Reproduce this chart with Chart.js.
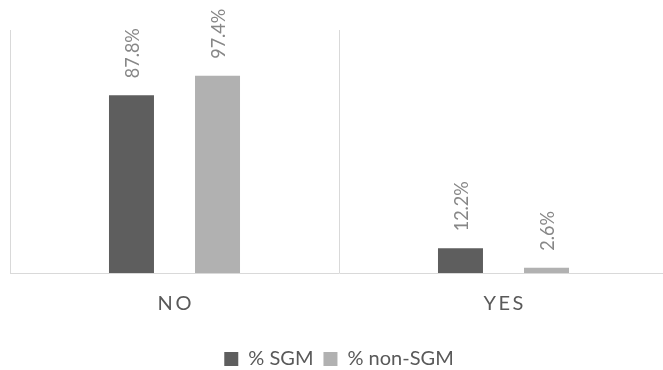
<!DOCTYPE html>
<html>
<head>
<meta charset="utf-8">
<script src="https://cdn.jsdelivr.net/npm/chart.js@4/dist/chart.umd.min.js"></script>
<style>
  html, body { margin: 0; padding: 0; background: #ffffff; overflow: hidden; }
  #wrap { width: 669px; height: 370px; }
</style>
</head>
<body>
<div id="wrap"><canvas id="chart" width="669" height="370"></canvas></div>
<script>
// Answer categories and the share of each group (in %)
const categories = ['N\u2009O', 'Y\u2009E\u2009S'];
const seriesNames = ['% SGM', '% non-SGM'];
const sgmValues = [87.8, 12.2];
const nonSgmValues = [97.4, 2.6];
const seriesColors = ['#5e5e5e', '#b1b1b1'];

// Writes each bar's value, turned upright, just above the bar
const valueLabels = {
  id: 'valueLabels',
  afterDatasetsDraw(chart) {
    const ctx = chart.ctx;
    ctx.save();
    ctx.fillStyle = '#878787';
    ctx.font = '20px Lato';
    ctx.textAlign = 'left';
    ctx.textBaseline = 'middle';
    chart.data.datasets.forEach((ds, i) => {
      chart.getDatasetMeta(i).data.forEach((bar, j) => {
        ctx.save();
        ctx.translate(bar.x + 1, bar.y - 17);
        ctx.rotate(-Math.PI / 2);
        ctx.scale(0.9, 1); // narrow the figures along the reading direction
        ctx.fillText(ds.data[j].toFixed(1) + '%', 0, 0);
        ctx.restore();
      });
    });
    ctx.restore();
  }
};

new Chart(document.getElementById('chart'), {
  type: 'bar',
  data: {
    labels: categories,
    datasets: [
      { label: seriesNames[0], data: sgmValues, backgroundColor: seriesColors[0] },
      { label: seriesNames[1], data: nonSgmValues, backgroundColor: seriesColors[1] }
    ]
  },
  options: {
    responsive: false,
    animation: false,
    events: [],
    categoryPercentage: 0.523,
    barPercentage: 0.523,
    layout: { padding: { top: 30, left: 10, right: 1, bottom: -9 } },
    scales: {
      x: {
        grid: { color: '#d9d9d9', lineWidth: 1, drawTicks: false, offset: true },
        border: { color: '#d9d9d9', width: 1 },
        ticks: { color: '#595959', font: { family: 'Lato', size: 20 }, padding: 19 },
        afterFit(scale) { scale.height += 4; }
      },
      y: { display: false, min: 0, max: 120 }
    },
    plugins: {
      legend: {
        position: 'bottom',
        labels: {
          color: '#595959',
          font: { family: 'Lato', size: 20 },
          boxWidth: 14,
          boxHeight: 14,
          padding: 10
        }
      },
      tooltip: { enabled: false }
    }
  },
  plugins: [valueLabels]
});
</script>
</body>
</html>
